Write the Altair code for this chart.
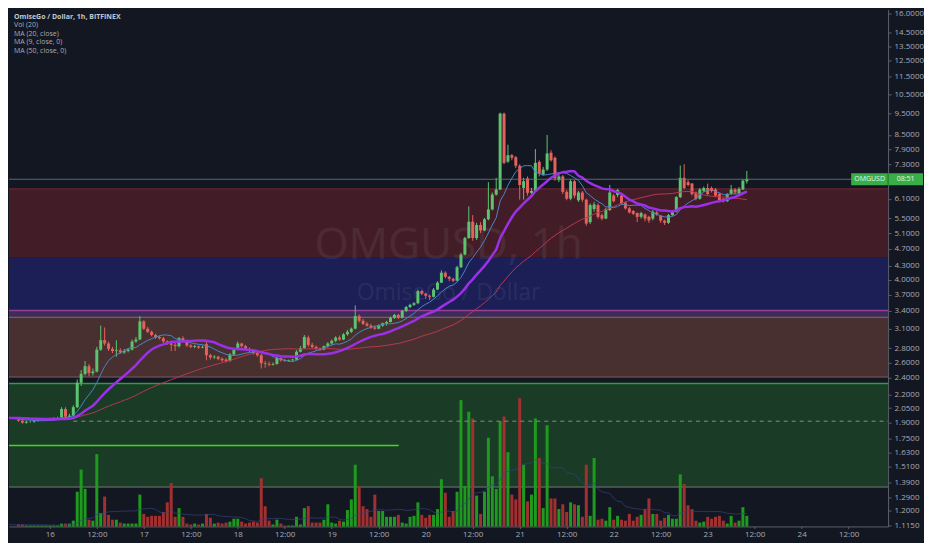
import altair as alt
import pandas as pd

W, H = 881, 518

# ---------------- data (hourly candles from 15 Nov 16:00) ----------------
opens = [
    1.93, 1.92, 1.90, 1.91, 1.91, 1.92, 1.93, 1.93, 1.94, 1.94,
    1.95, 1.95, 2.04, 1.96, 1.97, 2.06, 2.34, 2.45, 2.55, 2.46,
    2.48, 2.78, 2.92, 2.87, 2.79, 2.76, 2.77, 2.74, 2.76, 2.78,
    2.90, 2.93, 3.22, 3.10, 3.05, 3.00, 2.97, 2.95, 2.90, 2.87,
    2.85, 2.83, 2.95, 2.92, 2.84, 2.82, 2.83, 2.81, 2.86, 2.70,
    2.67, 2.68, 2.65, 2.64, 2.62, 2.71, 2.78, 2.87, 2.83, 2.79,
    2.76, 2.73, 2.70, 2.59, 2.58, 2.57, 2.58, 2.66, 2.63, 2.62,
    2.63, 2.64, 2.75, 2.80, 2.96, 2.85, 2.82, 2.79, 2.78, 2.83,
    2.87, 2.91, 2.96, 2.93, 3.01, 3.05, 3.10, 3.31, 3.23, 3.18,
    3.15, 3.12, 3.10, 3.15, 3.19, 3.21, 3.28, 3.33, 3.28, 3.40,
    3.47, 3.51, 3.54, 3.77, 3.72, 3.68, 3.66, 3.80, 3.94, 4.15,
    4.06, 4.02, 3.98, 4.27, 4.56, 4.97, 5.41, 4.97, 5.32, 5.17,
    5.48, 5.77, 6.23, 6.40, 9.50, 7.40, 7.65, 7.57, 7.24, 6.45,
    6.78, 6.29, 6.35, 7.39, 6.92, 7.10, 7.75, 7.55, 6.72, 6.85,
    6.32, 6.10, 6.68, 6.05, 6.30, 6.07, 5.40, 5.78, 5.90, 5.60,
    5.50, 5.75, 6.20, 6.22, 6.20, 5.98, 5.80, 5.72, 5.66, 5.55,
    5.62, 5.55, 5.50, 5.68, 5.58, 5.44, 5.38, 5.60, 5.70, 6.15,
    6.80, 6.65, 6.60, 6.30, 6.10, 6.35, 6.45, 6.45, 6.40, 6.25,
    6.10, 6.02, 6.25, 6.40, 6.28, 6.40, 6.68,
]
highs = [
    1.94, 1.93, 1.92, 1.92, 1.93, 1.93, 1.94, 1.94, 1.95, 1.95,
    1.96, 2.06, 2.06, 1.99, 2.08, 2.38, 2.50, 2.62, 2.58, 2.52,
    2.82, 3.15, 3.12, 2.90, 2.82, 2.92, 2.80, 2.79, 2.80, 2.93,
    2.97, 3.31, 3.24, 3.13, 3.07, 3.02, 2.99, 2.97, 2.92, 2.89,
    2.88, 2.97, 2.98, 2.93, 2.86, 2.85, 2.84, 2.84, 2.90, 2.72,
    2.70, 2.69, 2.67, 2.66, 2.73, 2.80, 2.90, 2.88, 2.85, 2.81,
    2.78, 2.75, 2.72, 2.62, 2.61, 2.60, 2.68, 2.67, 2.65, 2.64,
    2.65, 2.77, 2.83, 3.00, 2.99, 2.88, 2.84, 2.81, 2.84, 2.89,
    2.93, 2.98, 2.99, 3.03, 3.08, 3.12, 3.50, 3.34, 3.26, 3.21,
    3.18, 3.15, 3.17, 3.20, 3.23, 3.30, 3.35, 3.35, 3.42, 3.49,
    3.53, 3.56, 3.80, 3.79, 3.74, 3.70, 3.83, 3.97, 4.20, 4.18,
    4.08, 4.04, 4.30, 4.60, 5.00, 5.86, 5.60, 5.38, 5.40, 5.52,
    6.65, 6.30, 6.80, 9.55, 9.55, 8.08, 7.70, 7.62, 7.30, 6.80,
    6.85, 6.45, 7.90, 7.45, 7.20, 8.50, 7.85, 7.60, 6.95, 6.90,
    6.38, 6.75, 6.72, 6.35, 6.35, 6.10, 5.95, 6.00, 5.95, 5.65,
    5.82, 6.55, 6.25, 6.42, 6.25, 6.00, 5.84, 5.75, 5.68, 5.70,
    5.65, 5.58, 5.75, 5.72, 5.60, 5.47, 5.63, 5.74, 6.18, 7.25,
    7.30, 6.72, 6.62, 6.33, 6.45, 6.50, 6.60, 6.50, 6.45, 6.28,
    6.12, 6.28, 6.55, 6.45, 6.48, 6.75, 7.05,
]
lows = [
    1.91, 1.89, 1.89, 1.90, 1.90, 1.91, 1.92, 1.92, 1.93, 1.93,
    1.94, 1.94, 1.95, 1.95, 1.96, 2.05, 2.30, 2.43, 2.42, 2.43,
    2.47, 2.76, 2.84, 2.76, 2.73, 2.68, 2.72, 2.72, 2.74, 2.77,
    2.88, 2.92, 3.08, 3.03, 2.98, 2.94, 2.93, 2.88, 2.85, 2.76,
    2.76, 2.81, 2.90, 2.82, 2.80, 2.80, 2.79, 2.80, 2.63, 2.64,
    2.65, 2.63, 2.61, 2.60, 2.61, 2.70, 2.77, 2.81, 2.77, 2.74,
    2.71, 2.68, 2.52, 2.53, 2.55, 2.56, 2.57, 2.61, 2.61, 2.61,
    2.62, 2.63, 2.74, 2.79, 2.82, 2.80, 2.77, 2.76, 2.77, 2.81,
    2.85, 2.89, 2.91, 2.92, 2.99, 3.03, 3.09, 3.20, 3.16, 3.13,
    3.10, 3.08, 3.09, 3.13, 3.15, 3.20, 3.26, 3.26, 3.27, 3.38,
    3.45, 3.49, 3.52, 3.69, 3.62, 3.60, 3.65, 3.79, 3.93, 4.03,
    3.97, 3.95, 3.97, 4.25, 4.54, 4.95, 4.90, 4.92, 5.10, 5.15,
    5.45, 5.74, 6.20, 6.38, 7.30, 7.35, 7.45, 7.15, 6.07, 6.07,
    6.20, 6.25, 6.32, 6.85, 6.88, 7.05, 7.40, 6.70, 6.65, 6.25,
    6.05, 6.05, 6.12, 6.00, 6.00, 5.30, 5.35, 5.70, 5.50, 5.45,
    5.48, 5.72, 5.98, 6.15, 5.92, 5.76, 5.65, 5.60, 5.40, 5.50,
    5.42, 5.38, 5.45, 5.58, 5.38, 5.32, 5.35, 5.58, 5.68, 6.12,
    6.40, 6.50, 6.20, 6.05, 6.07, 6.32, 6.20, 6.30, 6.15, 6.00,
    5.98, 6.00, 6.22, 6.25, 6.25, 6.38, 6.60,
]
closes = [
    1.92, 1.90, 1.91, 1.91, 1.92, 1.93, 1.93, 1.94, 1.94, 1.95,
    1.95, 2.04, 1.96, 1.97, 2.06, 2.34, 2.45, 2.55, 2.46, 2.48,
    2.78, 2.92, 2.87, 2.79, 2.76, 2.77, 2.74, 2.76, 2.78, 2.90,
    2.93, 3.22, 3.10, 3.05, 3.00, 2.96, 2.95, 2.90, 2.87, 2.85,
    2.83, 2.95, 2.92, 2.84, 2.82, 2.83, 2.81, 2.82, 2.70, 2.67,
    2.68, 2.65, 2.63, 2.62, 2.71, 2.78, 2.87, 2.83, 2.79, 2.76,
    2.73, 2.70, 2.59, 2.58, 2.57, 2.58, 2.66, 2.63, 2.62, 2.63,
    2.64, 2.75, 2.80, 2.97, 2.85, 2.82, 2.79, 2.78, 2.83, 2.87,
    2.91, 2.96, 2.93, 3.01, 3.05, 3.10, 3.31, 3.23, 3.18, 3.15,
    3.12, 3.10, 3.15, 3.19, 3.21, 3.28, 3.33, 3.28, 3.40, 3.47,
    3.51, 3.54, 3.77, 3.72, 3.68, 3.66, 3.80, 3.94, 4.15, 4.06,
    4.02, 3.98, 4.27, 4.56, 4.97, 5.41, 4.97, 5.32, 5.17, 5.48,
    5.77, 6.23, 6.40, 9.50, 7.35, 7.65, 7.55, 7.24, 6.55, 6.68,
    6.29, 6.35, 7.35, 6.95, 7.10, 7.72, 7.45, 6.78, 6.85, 6.32,
    6.10, 6.68, 6.20, 6.30, 6.07, 5.36, 5.90, 5.92, 5.55, 5.50,
    5.78, 6.30, 6.02, 6.38, 5.95, 5.80, 5.68, 5.64, 5.55, 5.66,
    5.50, 5.45, 5.70, 5.62, 5.44, 5.38, 5.60, 5.70, 6.15, 6.80,
    6.45, 6.55, 6.25, 6.10, 6.40, 6.45, 6.25, 6.35, 6.20, 6.05,
    6.02, 6.25, 6.40, 6.30, 6.42, 6.70, 6.76,
]
volumes = [
    2, 2, 1, 1, 1, 1, 1, 1, 1, 1,
    1, 3, 3, 3, 6, 36, 59, 39, 7, 6,
    75, 14, 31, 12, 7, 7, 4, 3, 3, 3,
    3, 33, 13, 10, 11, 11, 11, 15, 25, 45,
    10, 19, 10, 3, 2, 3, 2, 3, 13, 9,
    3, 4, 3, 4, 5, 8, 8, 5, 3, 4,
    5, 4, 50, 21, 6, 2, 7, 3, 1, 1,
    1, 10, 2, 19, 21, 4, 4, 4, 7, 23,
    4, 3, 6, 5, 17, 28, 64, 42, 21, 18,
    10, 33, 16, 16, 10, 10, 10, 12, 4, 3,
    10, 11, 25, 12, 9, 12, 12, 18, 49, 35,
    10, 16, 36, 131, 42, 119, 112, 32, 13, 36,
    92, 52, 39, 109, 114, 77, 33, 28, 133, 64,
    26, 33, 112, 71, 19, 105, 29, 29, 18, 23,
    15, 25, 23, 22, 10, 64, 11, 71, 7, 8,
    6, 20, 7, 11, 7, 6, 13, 6, 10, 12,
    18, 29, 13, 13, 6, 9, 12, 8, 8, 54,
    44, 22, 18, 6, 4, 5, 10, 8, 10, 11,
    6, 3, 11, 4, 6, 20, 11,
]
# closes / volumes of the hours before the visible window (only feed the moving averages)
prior_closes = [
    1.95, 1.96, 1.94, 1.95, 1.97, 1.96, 1.95, 1.94, 1.96, 1.97,
    1.95, 1.94, 1.93, 1.95, 1.96, 1.97, 1.96, 1.95, 1.94, 1.95,
    1.96, 1.95, 1.94, 1.93, 1.95, 1.96, 1.97, 1.96, 1.95, 1.94,
    1.95, 1.96, 1.95, 1.94, 1.96, 1.97, 1.96, 1.95, 1.94, 1.95,
    1.96, 1.95, 1.94, 1.93, 1.94, 1.95, 1.94, 1.93, 1.93,
]
prior_volumes = [
    2, 3, 2, 1, 2, 3, 2, 2, 1, 2,
    3, 2, 2, 1, 2, 2, 3, 2, 1, 2,
    2, 1, 2, 3, 2, 2, 1, 2, 2, 3,
    2, 1, 2, 2, 1, 2, 3, 2, 2, 1,
    2, 2, 1, 2, 2, 1, 2, 2, 1,
]

price_ticks = [16.0, 14.5, 13.5, 12.5, 11.5, 10.5, 9.5, 8.5, 7.9, 7.3, 6.1, 5.5,
               5.1, 4.7, 4.3, 4.0, 3.7, 3.4, 3.1, 2.8, 2.6, 2.4, 2.2, 2.05, 1.9,
               1.75, 1.63, 1.51, 1.39, 1.29, 1.2, 1.115]

# zones drawn on the chart: (low price, high price, fill)
zone_lo = [4.49, 3.41, 3.29, 2.41, 1.36]
zone_hi = [6.42, 4.49, 3.41, 3.29, 2.33]
zone_col = ["#421d28", "#1c1e56", "#3d2b5a", "#47302f", "#1a3b26"]
edge_p = [6.42, 3.41, 3.29, 2.41, 2.33, 1.36]
edge_col = ["#6e2832", "#9a3f96", "#8a6a70", "#7a6064", "#2f9e3c", "#55605a"]
edge_w = [1, 1.5, 1, 1, 1.5, 1.5]

support_price = 1.688
dashed_price = 1.915
last_price = 6.75

legend_lines = ["OmiseGo / Dollar, 1h, BITFINEX", "Vol (20)", "MA (20, close)",
                "MA (9, close, 0)", "MA (50, close, 0)"]

# ---------------- frames ----------------
n = len(closes)
times = pd.date_range("2017-11-15 16:00", periods=n, freq="h")
df = pd.DataFrame({"t": times, "o": opens, "h": highs, "l": lows, "c": closes, "v": volumes})
df["dir"] = ["up" if c >= o else "down" for o, c in zip(opens, closes)]

allc = pd.Series(prior_closes + closes)
allv = pd.Series(prior_volumes + volumes)
allt = pd.date_range(end=times[-1], periods=len(allc), freq="h")
ma = pd.DataFrame({
    "t": allt,
    "ma9": allc.rolling(9, min_periods=1).mean(),
    "ma20": allc.rolling(20, min_periods=1).mean(),
    "ma50": allc.rolling(50, min_periods=1).mean(),
    "vma": allv.rolling(20, min_periods=1).mean(),
})

zones = pd.DataFrame({"lo": zone_lo, "hi": zone_hi, "col": zone_col})
edges = pd.DataFrame({"p": edge_p, "col": edge_col, "w": edge_w})
one = pd.DataFrame({"a": [0]})

yscale = alt.Scale(type="log", domain=[1.107, 16.33], nice=False, zero=False)
vscale = alt.Scale(domain=[0, 536], nice=False)
xscale = alt.Scale(domain=[
    alt.DateTime(year=2017, month=11, date=15, hours=14, minutes=51),
    alt.DateTime(year=2017, month=11, date=24, hours=20, minutes=48)])
xaxis = alt.Axis(
    values=[alt.DateTime(year=2017, month=11, date=d, hours=h) for d in range(16, 25) for h in (0, 12)],
    labelExpr="hours(datum.value) == 0 ? '' + date(datum.value) : '12:00'",
    title=None, labelAngle=0, tickSize=2, labelPadding=2, labelOverlap=False,
    minExtent=16, maxExtent=16, grid=False)
yaxis = alt.Axis(orient="right", values=price_ticks, format=".4f", title=None,
                 tickSize=3, labelPadding=3, labelOverlap=False,
                 minExtent=35, maxExtent=35, grid=False)

X = alt.X("t:T", scale=xscale, axis=xaxis)
dir_up = alt.Scale(domain=["up", "down"], range=["#5cc36e", "#e5615c"])
dir_vol = alt.Scale(domain=["up", "down"], range=["#1e9b1e", "#a33030"])

zones_l = alt.Chart(zones).mark_rect().encode(
    x=alt.value(0), x2=alt.value(W),
    y=alt.Y("hi:Q", scale=yscale, axis=yaxis), y2="lo:Q",
    color=alt.Color("col:N", scale=None))

edges_l = alt.Chart(edges).mark_rule().encode(
    x=alt.value(0), x2=alt.value(W),
    y=alt.Y("p:Q", scale=yscale, axis=None),
    color=alt.Color("col:N", scale=None),
    strokeWidth=alt.StrokeWidth("w:Q", scale=None))

wm1 = alt.Chart(one).mark_text(font="Open Sans", fontSize=44, color="#ffffff", opacity=0.06).encode(
    x=alt.value(W / 2), y=alt.value(237), text=alt.value("OMGUSD, 1h"))
wm2 = alt.Chart(one).mark_text(font="Open Sans", fontSize=23, color="#ffffff", opacity=0.06).encode(
    x=alt.value(W / 2), y=alt.value(284), text=alt.value("OmiseGo / Dollar"))

vol_l = alt.Chart(df).mark_bar(size=3).encode(
    x=X, y=alt.Y("v:Q", scale=vscale, axis=None),
    color=alt.Color("dir:N", scale=dir_vol, legend=None))
vma_l = alt.Chart(ma).mark_line(clip=True, strokeWidth=1, opacity=0.7, color="#33447e").encode(
    x=X, y=alt.Y("vma:Q", scale=vscale, axis=None))

support = pd.DataFrame({"t0": [pd.Timestamp("2017-11-15 12:00")],
                        "t1": [pd.Timestamp("2017-11-19 17:06")], "p": [support_price]})
support_l = alt.Chart(support).mark_rule(clip=True, color="#3fdc1a", strokeWidth=1.5).encode(
    x=alt.X("t0:T", scale=xscale, axis=xaxis), x2="t1:T",
    y=alt.Y("p:Q", scale=yscale, axis=None))
dashed = pd.DataFrame({"t0": [pd.Timestamp("2017-11-16 06:00")], "p": [dashed_price]})
dashed_l = alt.Chart(dashed).mark_rule(color="#8c8c8c", strokeDash=[4, 4], strokeWidth=1).encode(
    x=alt.X("t0:T", scale=xscale, axis=xaxis), x2=alt.value(W),
    y=alt.Y("p:Q", scale=yscale, axis=None))

lastp = pd.DataFrame({"p": [last_price], "lo": [last_price / 1.032], "hi": [last_price * 1.032]})
lastline_l = alt.Chart(lastp).mark_rule(color="#6e7f80", strokeWidth=1, opacity=0.8).encode(
    x=alt.value(0), x2=alt.value(W), y=alt.Y("p:Q", scale=yscale, axis=None))

wick_l = alt.Chart(df).mark_rule(strokeWidth=1).encode(
    x=X, y=alt.Y("l:Q", scale=yscale, axis=None), y2="h:Q",
    color=alt.Color("dir:N", scale=dir_up, legend=None))
body_l = alt.Chart(df).mark_bar(size=3).encode(
    x=X, y=alt.Y("o:Q", scale=yscale, axis=None), y2="c:Q",
    color=alt.Color("dir:N", scale=dir_up, legend=None))

ma50_l = alt.Chart(ma).mark_line(clip=True, color="#b8384f", strokeWidth=1).encode(
    x=X, y=alt.Y("ma50:Q", scale=yscale, axis=None))
ma9_l = alt.Chart(ma).mark_line(clip=True, color="#4a86c8", strokeWidth=1).encode(
    x=X, y=alt.Y("ma9:Q", scale=yscale, axis=None))
ma20_l = alt.Chart(ma).mark_line(clip=True, color="#9b30e8", strokeWidth=2.5).encode(
    x=X, y=alt.Y("ma20:Q", scale=yscale, axis=None))

box_l = alt.Chart(lastp).mark_rect(color="#38ad48").encode(
    x=alt.value(W - 37), x2=alt.value(W + 35),
    y=alt.Y("hi:Q", scale=yscale, axis=None), y2="lo:Q")
sep_l = alt.Chart(lastp).mark_rule(color="#1f6e2a", strokeWidth=1).encode(
    x=alt.value(W), y=alt.Y("hi:Q", scale=yscale, axis=None), y2="lo:Q")
boxt1 = alt.Chart(lastp).mark_text(font="Open Sans", fontSize=7, color="#e8f5e9").encode(
    x=alt.value(W - 18.5), y=alt.Y("p:Q", scale=yscale, axis=None), text=alt.value("OMGUSD"))
boxt2 = alt.Chart(lastp).mark_text(font="Open Sans", fontSize=7, color="#e8f5e9").encode(
    x=alt.value(W + 17.5), y=alt.Y("p:Q", scale=yscale, axis=None), text=alt.value("08:51"))

legend_layers = []
for k, txt in enumerate(legend_lines):
    legend_layers.append(
        alt.Chart(one).mark_text(
            font="Open Sans", fontSize=7, align="left", baseline="middle",
            color="#c3c6ce" if k == 0 else "#a9acb5",
            fontWeight="bold" if k == 0 else "normal").encode(
            x=alt.value(5), y=alt.value(7 + 8.6 * k), text=alt.value(txt)))

chart = alt.layer(
    zones_l, edges_l, wm1, wm2, vol_l, vma_l, support_l, dashed_l,
    wick_l, body_l, ma50_l, ma9_l, ma20_l, lastline_l,
    box_l, sep_l, boxt1, boxt2, *legend_layers,
).resolve_scale(
    y="independent", color="independent", strokeWidth="independent"
).properties(
    width=W, height=H, background="#131722", padding=0
).configure_view(
    stroke=None
).configure_axis(
    labelFont="Open Sans", labelFontSize=8, labelColor="#a9acb5",
    domainColor="#5d606b", tickColor="#5d606b", grid=False
)

chart.save("out.html", embed_options={"renderer": "svg", "actions": False})
